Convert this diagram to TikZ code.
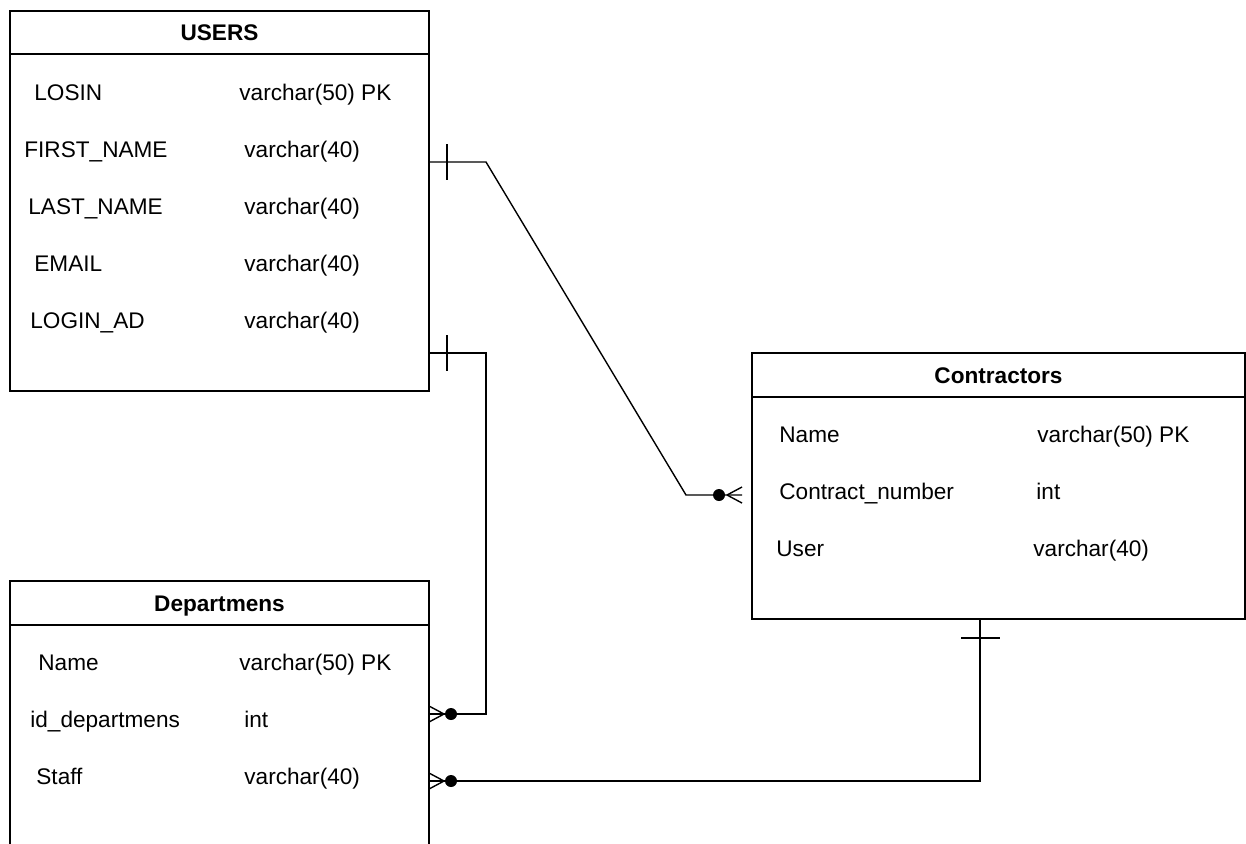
\documentclass[tikz,border=0pt]{standalone}
\usepackage{fontspec}
\setmainfont{Liberation Sans}
\usetikzlibrary{arrows}

\begin{document}
\begin{tikzpicture}[x=0.5pt,y=-0.5pt,
  tbl/.style={line width=0.8pt},
  rel/.style={line width=0.7pt},
  title/.style={anchor=base,inner sep=0pt,font=\fontsize{11.3}{13}\selectfont\bfseries},
  field/.style={anchor=base west,inner sep=0pt,font=\fontsize{11.3}{13}\selectfont}]
\useasboundingbox (0,0) rectangle (1246,843);

% USERS
\draw[tbl] (10,11) rectangle (429,391);
\draw[tbl] (10,54)--(429,54);
\node[title] (usr) at (219.5,40) {USERS};
\node[field] (usr-losin) at (34,100) {LOSIN};
\node[field] (usr-first) at (24,157) {FIRST\_NAME};
\node[field] (usr-last) at (28,214) {LAST\_NAME};
\node[field] (usr-email) at (34,271) {EMAIL};
\node[field] (usr-login) at (30,328) {LOGIN\_AD};
\node[field] (usr-losin-t) at (239,100) {varchar(50) PK};
\node[field] (usr-first-t) at (244,157) {varchar(40)};
\node[field] (usr-last-t) at (244,214) {varchar(40)};
\node[field] (usr-email-t) at (244,271) {varchar(40)};
\node[field] (usr-login-t) at (244,328) {varchar(40)};

% Contractors
\draw[tbl] (752,353) rectangle (1245,619);
\draw[tbl] (752,397)--(1245,397);
\node[title] (con) at (998.5,383) {Contractors};
\node[field] (con-name) at (779,442) {Name};
\node[field] (con-number) at (779,499) {Contract\_number};
\node[field] (con-user) at (776,556) {User};
\node[field] (con-name-t) at (1037,442) {varchar(50) PK};
\node[field] (con-number-t) at (1036,499) {int};
\node[field] (con-user-t) at (1033,556) {varchar(40)};

% Departmens
\draw[tbl] (10,850)--(10,581)--(429,581)--(429,850);
\draw[tbl] (10,625)--(429,625);
\node[title] (dep) at (219.5,611) {Departmens};
\node[field] (dep-name) at (38,670) {Name};
\node[field] (dep-id) at (30,727) {id\_departmens};
\node[field] (dep-staff) at (36,784) {Staff};
\node[field] (dep-name-t) at (239,670) {varchar(50) PK};
\node[field] (dep-id-t) at (244,727) {int};
\node[field] (dep-staff-t) at (244,784) {varchar(40)};

% relation ends
\coordinate (usr-a) at (429,162);
\coordinate (usr-b) at (429,353);
\coordinate (con-a) at (742,495);
\coordinate (con-b) at (980,619);
\coordinate (dep-a) at (429,714);
\coordinate (dep-b) at (429,781);

% USERS -> Contractors
\draw[rel] (usr-a)--(486,162)--(686,495)--(con-a);
\draw[rel] (447,144)--(447,180);
\fill (719,495) circle[radius=6];
\draw[rel] (727,495)--(742,487) (727,495)--(742,503);

% USERS -> Departmens
\draw[rel] (usr-b)--(486,353)--(486,714)--(dep-a);
\draw[rel] (447,335)--(447,371);
\fill (451,714) circle[radius=6];
\draw[rel] (429,706)--(444,714)--(429,722);

% Contractors -> Departmens
\draw[rel] (con-b)|-(dep-b);
\draw[rel] (961,638)--(1000,638);
\fill (451,781) circle[radius=6];
\draw[rel] (429,773)--(444,781)--(429,789);

\end{tikzpicture}
\end{document}
